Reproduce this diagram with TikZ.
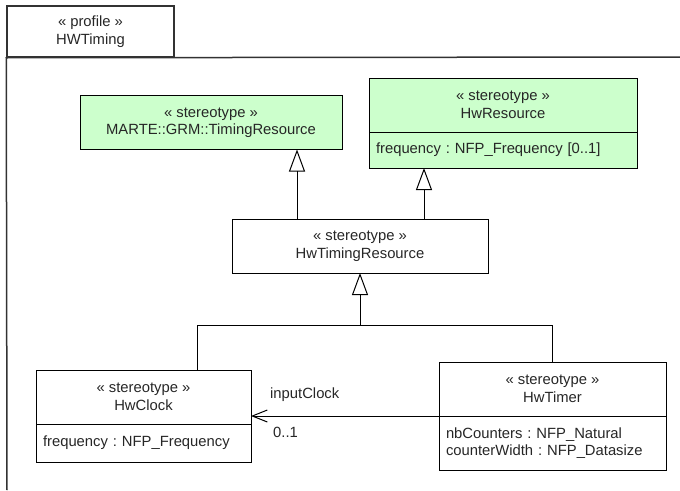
\documentclass[tikz,border=0pt]{standalone}
\usepackage{fontspec}
\setmainfont{Liberation Sans}
\usetikzlibrary{arrows.meta,positioning}
\definecolor{stereogreen}{RGB}{204,255,204}
\definecolor{framegray}{RGB}{50,50,50}
\frenchspacing

\begin{document}
\begin{tikzpicture}[
    x=1pt, y=-1pt,
    stereo/.style={
        rectangle,
        draw=black,
        line width=1pt,
        minimum height=54pt,
        align=center,
        inner sep=0pt,
        outer sep=0pt,
        text=black!85,
        font=\fontsize{14.8}{17.5}\selectfont
    },
    attrs/.style={
        rectangle,
        draw=black,
        line width=1pt,
        align=left,
        inner xsep=7pt,
        inner ysep=0pt,
        outer sep=0pt,
        text=black!85,
        font=\fontsize{14.8}{17.5}\selectfont
    },
    lbl/.style={
        inner sep=0pt,
        text=black!85,
        font=\fontsize{14.8}{17.5}\selectfont
    },
    gen/.style={
        line width=1pt,
        -{Triangle[open, length=22pt, width=16pt, line width=1pt]}
    },
    assoc/.style={
        line width=1pt,
        -{Straight Barb[length=15pt, width=12pt, line width=1pt]}
    },
    frame/.style={
        draw=framegray,
        line width=1.5pt
    }
]
\useasboundingbox (0,0) rectangle (680,490);

% Profile tab and frame
\node[lbl, frame, rectangle, minimum width=167pt, minimum height=51pt, align=center] (tab) at (90.5, 31.5)
    {« profile »\\HWTiming};
\coordinate (framebottom) at (7, 490);
\coordinate (frameright) at (680, 57);
\draw[frame] (framebottom) -- (tab.south west) -- (frameright);

% Top row: imported and hardware resources (green)
\node[stereo, fill=stereogreen, minimum width=262pt] (tres) at (211, 122.5)
    {« stereotype »\\MARTE::GRM::TimingResource};

\node[stereo, fill=stereogreen, minimum width=268pt] (hwres) at (503, 105)
    {« stereotype »\\HwResource};
\node[attrs, fill=stereogreen, text width=254pt, minimum height=36pt, below=0pt of hwres] (hwresattr)
    {frequency : NFP\_Frequency [0..1]};

% Middle: HwTimingResource
\node[stereo, minimum width=256pt] (htres) at (360, 246)
    {« stereotype »\\HwTimingResource};

% Bottom row: clock and timer
\node[stereo, minimum width=215pt] (clock) at (143.5, 397)
    {« stereotype »\\HwClock};
\node[attrs, text width=201pt, minimum height=38pt, below=0pt of clock] (clockattr)
    {frequency : NFP\_Frequency};

\node[stereo, minimum width=227pt] (timer) at (552.5, 389)
    {« stereotype »\\HwTimer};
\node[attrs, text width=213pt, minimum height=54pt, below=0pt of timer] (timerattr)
    {nbCounters : NFP\_Natural\\counterWidth : NFP\_Datasize};

% Generalizations
\draw[gen] ([xshift=65pt]htres.north west) -- ([xshift=65pt]htres.north west |- tres.south);
\draw[gen] ([xshift=-64pt]htres.north east) -- ([xshift=-64pt]htres.north east |- hwresattr.south);
\draw[gen] ([xshift=-54pt]clock.north east) |- ([yshift=-52pt]htres.south) -- (htres.south);
\draw[line width=1pt] (timer.north) |- ([yshift=-52pt]htres.south);

% Association inputClock
\draw[assoc] (timerattr.north west) -- (timerattr.north west -| clock.east);
\node[lbl, anchor=west] (role) at (270, 395) {inputClock};
\node[lbl, anchor=west] (mult) at (273, 432) {0..1};

\end{tikzpicture}
\end{document}
